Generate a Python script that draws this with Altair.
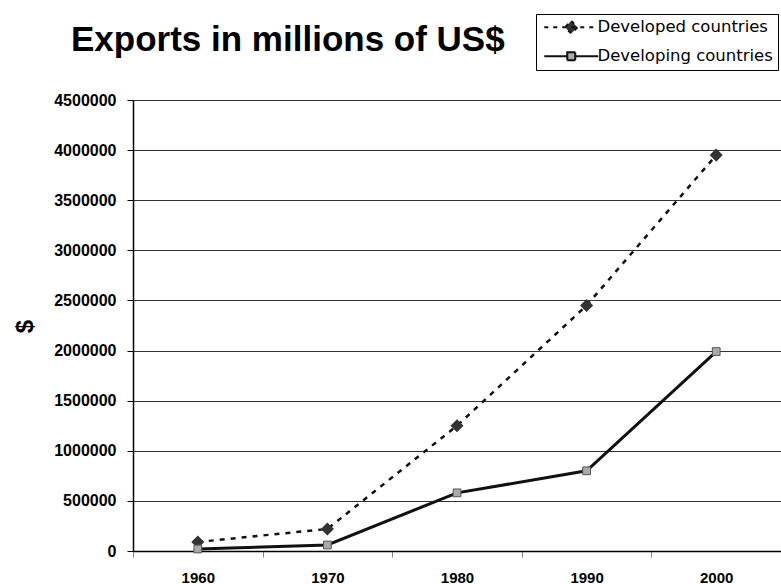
import altair as alt
import pandas as pd

years = ["1960", "1970", "1980", "1990", "2000"]
series = ["Developed countries", "Developing countries"]
developed = [90000, 220000, 1250000, 2450000, 3950000]
developing = [20000, 60000, 580000, 800000, 1990000]
y_ticks = [0, 500000, 1000000, 1500000, 2000000, 2500000, 3000000, 3500000, 4000000, 4500000]

rows = []
for y, v in zip(years, developed):
    rows.append({"year": y, "value": v, "series": series[0]})
for y, v in zip(years, developing):
    rows.append({"year": y, "value": v, "series": series[1]})
df = pd.DataFrame(rows)

dev_path = "M-5.4,0H5.4M0,-1.25L1.25,0L0,1.25L-1.25,0Z"
ing_path = "M-5.4,0H-0.8M0.8,0H5.4M-0.8,-0.8H0.8V0.8H-0.8Z"


def make_legend():
    return alt.Legend(
        title=None,
        orient="none",
        legendX=403,
        legendY=-86,
        strokeColor="black",
        fillColor="white",
        padding=5,
        rowPadding=10,
        symbolSize=100,
        symbolOffset=22,
        symbolStrokeWidth=2,
        symbolOpacity=1,
        labelOffset=18,
        labelFont="DejaVu Sans",
        labelFontSize=16.5,
        labelColor="black",
        labelLimit=400,
    )


x_enc = alt.X(
    "year:O",
    sort=years,
    scale=alt.Scale(type="band", paddingInner=0, paddingOuter=0),
    axis=alt.Axis(
        title=None,
        labelAngle=0,
        tickBand="extent",
        tickColor="#888888",
        tickSize=6,
        labelPadding=25,
        labelBaseline="alphabetic",
        labelFont="Liberation Sans",
        labelFontSize=15,
        labelFontWeight="bold",
        labelColor="black",
        domainColor="black",
        domainWidth=1.5,
        grid=False,
    ),
)
y_enc = alt.Y(
    "value:Q",
    scale=alt.Scale(domain=[0, 4500000], nice=False),
    axis=alt.Axis(
        values=y_ticks,
        format="d",
        title="$",
        titleFont="Liberation Sans",
        titleFontSize=24,
        titleFontWeight="bold",
        titleColor="black",
        titleAngle=270,
        titleX=-108,
        titleY=226,
        titleAlign="center",
        titleBaseline="middle",
        grid=True,
        gridColor="#333333",
        gridWidth=1,
        tickColor="black",
        tickSize=6,
        labelPadding=11,
        labelFont="Liberation Sans",
        labelFontSize=16,
        labelFontWeight="bold",
        labelColor="black",
        domainColor="black",
        domainWidth=1.5,
    ),
)

base = alt.Chart(df).encode(x=x_enc, y=y_enc)
is_dev = f"datum.series === '{series[0]}'"
is_ing = f"datum.series === '{series[1]}'"

line_dev = base.transform_filter(is_dev).mark_line(
    color="#111111", strokeWidth=2.5, strokeDash=[5, 6]
)
line_ing = base.transform_filter(is_ing).mark_line(color="#111111", strokeWidth=3)
pts_dev = base.transform_filter(is_dev).mark_point(
    shape="diamond", filled=True, opacity=1, size=170, color="#333333"
)
pts_ing = base.transform_filter(is_ing).mark_point(
    shape="square", filled=True, opacity=1, size=60, fill="#aaaaaa",
    stroke="#555555", strokeWidth=1
)

legend_layer = base.transform_filter("false").mark_point(
    filled=True, opacity=1, strokeWidth=2
).encode(
    shape=alt.Shape("series:N", scale=alt.Scale(domain=series, range=[dev_path, ing_path]),
                    legend=make_legend()),
    fill=alt.Fill("series:N", scale=alt.Scale(domain=series, range=["#333333", "#aaaaaa"]),
                  legend=make_legend()),
    stroke=alt.Stroke("series:N", scale=alt.Scale(domain=series, range=["#111111", "#111111"]),
                      legend=make_legend()),
    strokeDash=alt.StrokeDash("series:N", scale=alt.Scale(domain=series, range=[[4, 5], [1, 0]]),
                              legend=make_legend()),
)

chart = (
    alt.layer(line_dev, line_ing, pts_dev, pts_ing, legend_layer)
    .properties(
        width=648,
        height=451,
        autosize=alt.AutoSizeParams(type="none"),
        padding={"left": 133, "top": 100, "right": 0, "bottom": 33},
        background="white",
        title=alt.TitleParams(
            "Exports in millions of US$",
            anchor="start",
            dx=58,
            dy=72,
            offset=0,
            baseline="alphabetic",
            font="Liberation Sans",
            fontSize=35,
            fontWeight="bold",
            color="black",
        ),
    )
    .configure_view(strokeWidth=0)
)

chart.save("out.html", embed_options={"renderer": "svg", "actions": False})
